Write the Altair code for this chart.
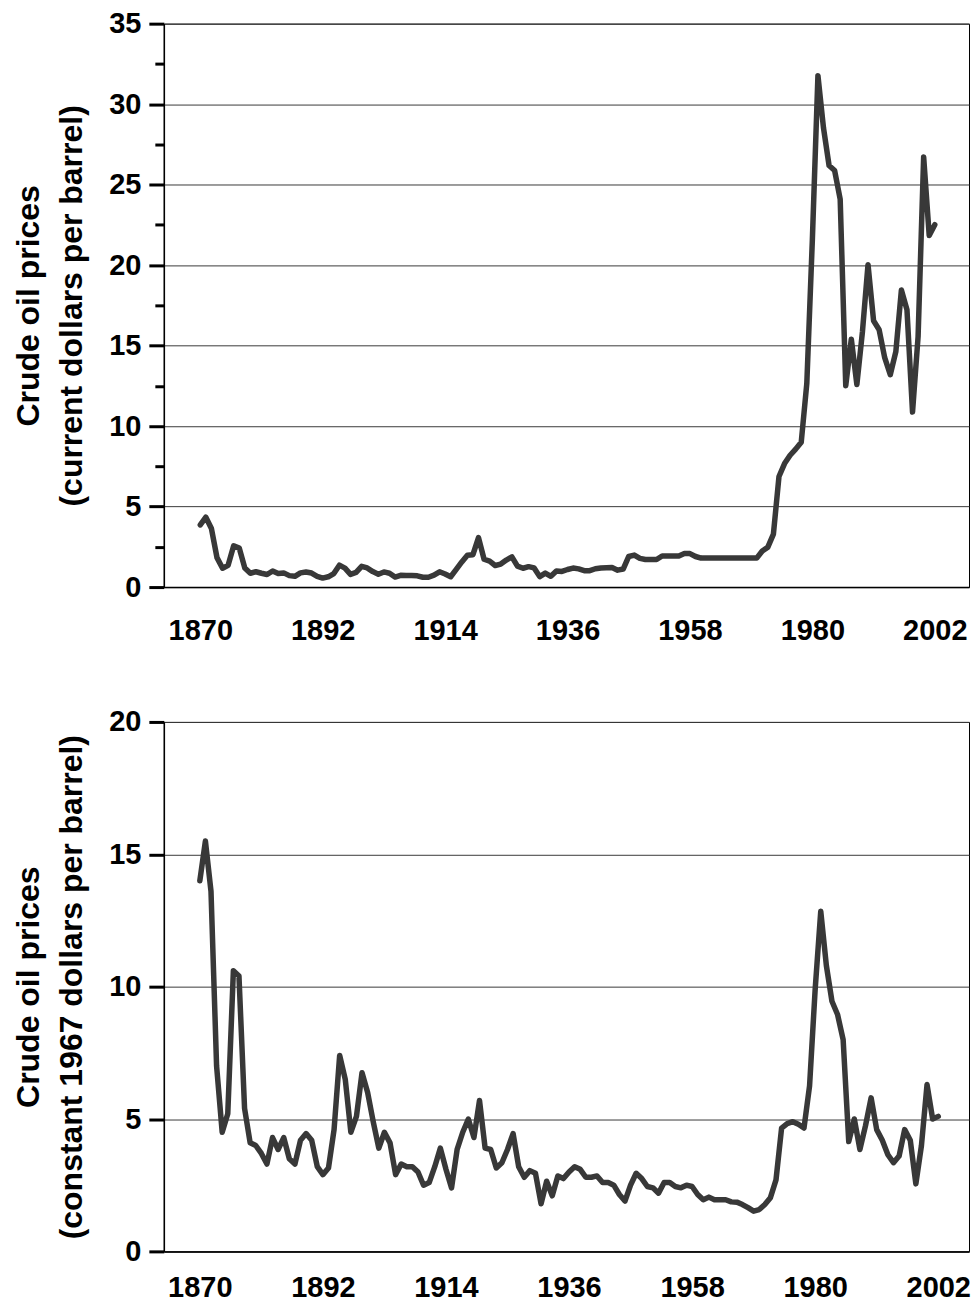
import altair as alt
import pandas as pd

# ---------------- data ----------------
years = list(range(1870, 2003))

current_price = [
    3.86, 4.34, 3.64, 1.83, 1.17, 1.35, 2.56, 2.42, 1.19, 0.86,   # 1870s
    0.95, 0.86, 0.78, 1.00, 0.84, 0.88, 0.71, 0.67, 0.88, 0.94,   # 1880s
    0.87, 0.67, 0.56, 0.64, 0.84, 1.36, 1.18, 0.79, 0.91, 1.29,   # 1890s
    1.19, 0.96, 0.80, 0.94, 0.86, 0.62, 0.73, 0.72, 0.72, 0.70,   # 1900s
    0.61, 0.61, 0.74, 0.95, 0.81, 0.64, 1.10, 1.56, 1.98, 2.01,   # 1910s
    3.07, 1.73, 1.61, 1.34, 1.43, 1.68, 1.88, 1.30, 1.17, 1.27,   # 1920s
    1.19, 0.65, 0.87, 0.67, 1.00, 0.97, 1.09, 1.18, 1.13, 1.02,   # 1930s
    1.02, 1.14, 1.19, 1.20, 1.21, 1.05, 1.12, 1.90, 1.99, 1.78,   # 1940s
    1.71, 1.71, 1.71, 1.93, 1.93, 1.93, 1.93, 2.08, 2.08, 1.90,   # 1950s
    1.80, 1.80, 1.80, 1.80, 1.80, 1.80, 1.80, 1.80, 1.80, 1.80,   # 1960s
    1.80, 2.24, 2.48, 3.29, 6.87, 7.67, 8.19, 8.57, 9.00, 12.64,  # 1970s
    21.59, 31.77, 28.52, 26.19, 25.88, 24.09, 12.51, 15.40, 12.58, 15.86,  # 1980s
    20.03, 16.54, 15.99, 14.25, 13.19, 14.62, 18.46, 17.23, 10.87, 15.56,  # 1990s
    26.72, 21.84, 22.51,                                           # 2000-2002
]

constant_1967_price = [
    14.0, 15.5, 13.6, 7.0, 4.5, 5.2, 10.6, 10.4, 5.4, 4.1,        # 1870s
    4.0, 3.7, 3.3, 4.3, 3.85, 4.3, 3.5, 3.3, 4.2, 4.45,           # 1880s
    4.2, 3.2, 2.9, 3.15, 4.6, 7.4, 6.5, 4.5, 5.1, 6.75,           # 1890s
    6.0, 4.9, 3.9, 4.5, 4.1, 2.9, 3.3, 3.2, 3.2, 3.0,             # 1900s
    2.5, 2.6, 3.2, 3.9, 3.1, 2.4, 3.85, 4.5, 5.0, 4.3,            # 1910s
    5.7, 3.9, 3.85, 3.15, 3.35, 3.85, 4.45, 3.2, 2.8, 3.05,       # 1920s
    2.95, 1.8, 2.65, 2.1, 2.85, 2.75, 3.0, 3.2, 3.1, 2.8,         # 1930s
    2.8, 2.85, 2.6, 2.6, 2.5, 2.15, 1.9, 2.5, 2.95, 2.75,         # 1940s
    2.45, 2.4, 2.2, 2.6, 2.6, 2.45, 2.4, 2.5, 2.45, 2.15,         # 1950s
    1.95, 2.05, 1.95, 1.95, 1.95, 1.87, 1.86, 1.77, 1.65, 1.52,   # 1960s
    1.58, 1.77, 2.03, 2.7, 4.66, 4.83, 4.9, 4.8, 4.66, 6.25,      # 1970s
    9.9, 12.85, 10.8, 9.45, 8.95, 8.0, 4.15, 5.0, 3.85, 4.75,     # 1980s
    5.8, 4.6, 4.2, 3.65, 3.35, 3.6, 4.6, 4.2, 2.55, 4.0,          # 1990s
    6.3, 5.0, 5.1,                                                # 2000-2002
]

x_tick_years = [1870, 1892, 1914, 1936, 1958, 1980, 2002]
top_y_ticks = [0, 2.5, 5, 7.5, 10, 12.5, 15, 17.5, 20, 22.5, 25, 27.5, 30, 32.5, 35]
bottom_y_ticks = [0, 5, 10, 15, 20]

top_title = ["Crude oil prices", "(current dollars per barrel)"]
bottom_title = ["Crude oil prices", "(constant 1967 dollars per barrel)"]

# ---------------- styling ----------------
FONT = "Liberation Sans"
LINE_COLOR = "#383838"
GRID_COLOR = "#3a3a3a"

top_df = pd.DataFrame({"year": years, "price": current_price})
bottom_df = pd.DataFrame({"year": years, "price": constant_1967_price})


def x_axis(pad):
    return alt.Axis(
        values=x_tick_years, format="d", ticks=False, grid=False,
        domain=True, domainColor="black", domainWidth=1.5,
        labelFont=FONT, labelFontSize=29, labelFontWeight="bold",
        labelColor="black", labelPadding=pad, labelFlush=False,
        labelOverlap=False, title=None,
    )


def y_axis(values, title):
    major = "datum.value % 5 === 0"
    return alt.Axis(
        values=values, grid=True, gridColor=GRID_COLOR, gridWidth=1,
        gridOpacity={"condition": {"test": major, "value": 1}, "value": 0},
        tickSize={"condition": {"test": major, "value": 15}, "value": 9},
        tickWidth=3, tickColor="black",
        domain=True, domainColor="black", domainWidth=1.5,
        labelExpr=f"{major} ? datum.label : ''",
        labelFont=FONT, labelFontSize=29, labelFontWeight="bold",
        labelColor="black", labelPadding=8,
        title=title, titleFont=FONT, titleFontSize=32,
        titleFontWeight="bold", titleColor="black", titleLineHeight=43,
        titlePadding=20,
    )


top = alt.Chart(top_df).mark_line(
    color=LINE_COLOR, strokeWidth=5.5, strokeJoin="round", strokeCap="round"
).encode(
    x=alt.X("year:Q", scale=alt.Scale(domain=[1863.45, 2008.15], nice=False, zero=False),
            axis=x_axis(29)),
    y=alt.Y("price:Q", scale=alt.Scale(domain=[0, 35], nice=False),
            axis=y_axis(top_y_ticks, top_title)),
).properties(width=806, height=564)

bottom = alt.Chart(bottom_df).mark_line(
    color=LINE_COLOR, strokeWidth=5.5, strokeJoin="round", strokeCap="round"
).encode(
    x=alt.X("year:Q", scale=alt.Scale(domain=[1863.57, 2007.5], nice=False, zero=False),
            axis=x_axis(22)),
    y=alt.Y("price:Q", scale=alt.Scale(domain=[0, 20], nice=False),
            axis=y_axis(bottom_y_ticks, bottom_title)),
).properties(width=806, height=530)

chart = alt.vconcat(top, bottom, spacing=61).properties(
    padding={"left": 4, "top": 0, "right": 0, "bottom": 0},
    background="white",
).configure_view(stroke="black", strokeWidth=1)

chart.save("out.html", embed_options={"renderer": "svg", "actions": False})
